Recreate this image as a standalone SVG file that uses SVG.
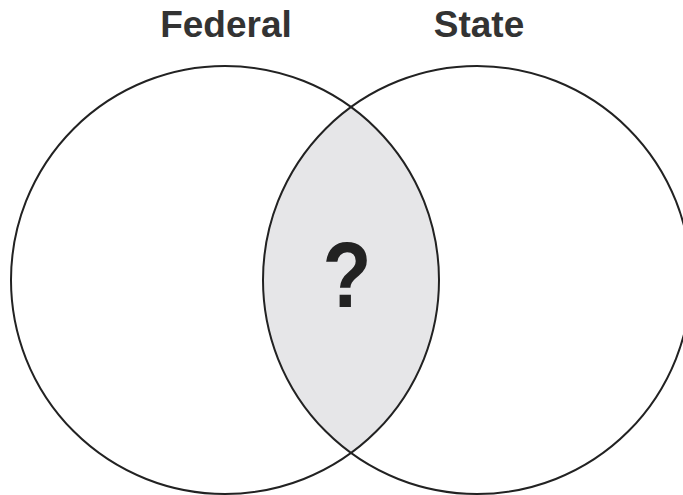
<svg xmlns="http://www.w3.org/2000/svg" width="683" height="495" viewBox="0 0 683 495">
<style>
.c{fill:none;stroke:#222;stroke-width:2}
.t{font-family:"Liberation Sans",Arial,sans-serif;font-weight:bold;fill:#333;text-anchor:middle}
</style>
<defs>
<clipPath id="lc"><circle cx="225" cy="280" r="214"/></clipPath>
</defs>
<rect width="683" height="495" fill="#fff"/>
<g id="lens">
<circle cx="477" cy="280" r="214" fill="#e6e6e8" clip-path="url(#lc)"/>
</g>
<g id="federal">
<circle class="c" cx="225" cy="280" r="214"/>
<text class="t" x="226" y="37" font-size="37">Federal</text>
</g>
<g id="state">
<circle class="c" cx="477" cy="280" r="214"/>
<text class="t" x="479" y="37" font-size="37">State</text>
</g>
<g id="question">
<text class="t" x="0" y="0" font-size="92" style="fill:#222" transform="translate(347,307) scale(0.87,1)">?</text>
</g>
<g id="connectors"></g>
</svg>
